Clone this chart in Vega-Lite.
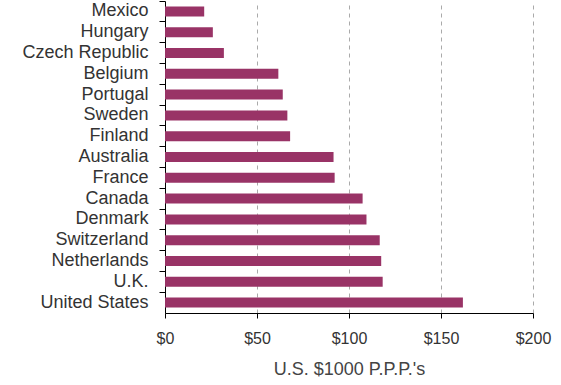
{
  "$schema": "https://vega.github.io/schema/vega-lite/v6.json",
  "autosize": "none",
  "width": 368,
  "height": 312,
  "padding": {"left": 165, "top": 1, "right": 28, "bottom": 72},
  "background": "white",
  "config": {
    "view": {"stroke": null},
    "font": "Liberation Sans"
  },
  "data": {
    "values": [
      {"country": "Mexico", "value": 21.3},
      {"country": "Hungary", "value": 26},
      {"country": "Czech Republic", "value": 32},
      {"country": "Belgium", "value": 61.6},
      {"country": "Portugal", "value": 64},
      {"country": "Sweden", "value": 66.5},
      {"country": "Finland", "value": 68},
      {"country": "Australia", "value": 91.6},
      {"country": "France", "value": 92.2},
      {"country": "Canada", "value": 107.4},
      {"country": "Denmark", "value": 109.5},
      {"country": "Switzerland", "value": 116.7},
      {"country": "Netherlands", "value": 117.5},
      {"country": "U.K.", "value": 118.3},
      {"country": "United States", "value": 161.9}
    ]
  },
  "mark": {"type": "bar", "color": "#993366", "height": {"band": 0.48}},
  "encoding": {
    "y": {
      "field": "country",
      "type": "nominal",
      "sort": null,
      "scale": {"paddingInner": 0, "paddingOuter": 0},
      "axis": {
        "title": null,
        "bandPosition": 0,
        "tickSize": 6,
        "tickColor": "#000",
        "domainColor": "#000",
        "labelColor": "#333",
        "labelFontSize": 18,
        "labelPadding": 11,
        "labelLimit": 200,
        "grid": false
      }
    },
    "x": {
      "field": "value",
      "type": "quantitative",
      "scale": {"domain": [0, 200], "nice": false},
      "axis": {
        "title": "U.S. $1000 P.P.P.'s",
        "titleFontSize": 18,
        "titleFontWeight": "normal",
        "titleColor": "#444",
        "titlePadding": 14,
        "values": [0, 50, 100, 150, 200],
        "format": "$d",
        "labelFontSize": 16,
        "labelColor": "#333",
        "labelPadding": 12,
        "tickSize": 5,
        "tickColor": "#000",
        "domainColor": "#000",
        "grid": true,
        "gridColor": "#aaaaaa",
        "gridDash": [4, 4],
        "labelFlush": false
      }
    }
  }
}
